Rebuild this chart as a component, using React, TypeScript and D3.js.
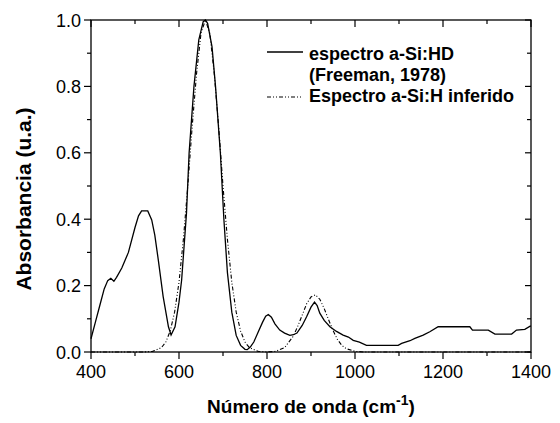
import React from "react";
import * as d3 from "d3";

const solidX = [400, 410, 420, 430, 438, 445, 452, 458, 470, 485, 500, 508, 515, 529, 538, 545, 553, 564, 576, 582, 591, 600, 606, 617, 623, 634, 645, 655, 660, 665, 675, 683, 694, 702, 710, 720, 730, 740, 750, 755, 762, 770, 780, 790, 797, 803, 810, 818, 829, 840, 852, 860, 868, 880, 890, 900, 908, 914, 920, 930, 943, 958, 973, 985, 996, 1010, 1026, 1098, 1106, 1125, 1136, 1155, 1170, 1189, 1261, 1267, 1303, 1318, 1356, 1367, 1386, 1398, 1400];
const solidY = [0.04, 0.09, 0.14, 0.19, 0.215, 0.222, 0.213, 0.225, 0.253, 0.3, 0.375, 0.41, 0.425, 0.425, 0.398, 0.352, 0.277, 0.167, 0.076, 0.051, 0.076, 0.15, 0.217, 0.418, 0.6, 0.8, 0.94, 0.995, 1.0, 0.99, 0.92, 0.8, 0.6, 0.4, 0.24, 0.12, 0.05, 0.02, 0.008, 0.007, 0.015, 0.03, 0.06, 0.09, 0.108, 0.113, 0.105, 0.085, 0.066, 0.057, 0.05, 0.052, 0.057, 0.08, 0.106, 0.135, 0.15, 0.14, 0.117, 0.095, 0.076, 0.062, 0.051, 0.045, 0.035, 0.03, 0.02, 0.02, 0.026, 0.034, 0.041, 0.051, 0.061, 0.076, 0.076, 0.066, 0.066, 0.054, 0.054, 0.066, 0.068, 0.078, 0.078];

const inferX = [400, 520, 540, 560, 570, 580, 590, 600, 610, 620, 630, 640, 650, 660, 670, 680, 690, 700, 710, 720, 730, 740, 750, 760, 780, 800, 820, 840, 860, 870, 880, 890, 900, 910, 920, 930, 940, 950, 960, 970, 980, 1000, 1020, 1400];
const inferY = [0, 0, 0.002, 0.013, 0.03, 0.063, 0.12, 0.21, 0.34, 0.5, 0.68, 0.84, 0.96, 1.0, 0.96, 0.84, 0.68, 0.5, 0.34, 0.21, 0.12, 0.063, 0.03, 0.013, 0.002, 0, 0.002, 0.013, 0.048, 0.078, 0.111, 0.145, 0.166, 0.172, 0.159, 0.131, 0.097, 0.065, 0.038, 0.02, 0.01, 0.002, 0, 0];

const xMajor = [400, 600, 800, 1000, 1200, 1400];
const xMinor = [500, 700, 900, 1100, 1300];
const yMajor = [0, 0.2, 0.4, 0.6, 0.8, 1.0];
const yMinor = [0.1, 0.3, 0.5, 0.7, 0.9];

const legendLabels = ["espectro a-Si:HD", "(Freeman, 1978)", "Espectro a-Si:H inferido"];

export default function App() {
  const W = 560, H = 423;
  const L = 91, R = 531, T = 20, B = 352;
  const x = d3.scaleLinear().domain([400, 1400]).range([L, R]);
  const y = d3.scaleLinear().domain([0, 1]).range([B, T]);
  const line = d3.line<[number, number]>().x(d => x(d[0])).y(d => y(d[1]));
  const solidPts = solidX.map((v, i) => [v, solidY[i]] as [number, number]);
  const inferPts = inferX.map((v, i) => [v, inferY[i]] as [number, number]);
  const font = "'Liberation Sans', Arial, Helvetica, sans-serif";
  const dash = "4,2,1,2,1,2";

  return (
    <div style={{ position: "absolute", left: 0, top: 0 }}>
      <svg width={W} height={H} style={{ display: "block", background: "#fff" }} fontFamily={font}>
        <path d={line(inferPts) || ""} fill="none" stroke="#000" strokeWidth={1.1} strokeDasharray={dash} />
        <path d={line(solidPts) || ""} fill="none" stroke="#000" strokeWidth={1.3} />
        <rect x={L} y={T} width={R - L} height={B - T} fill="none" stroke="#000" strokeWidth={1.3} />
        {xMajor.map(v => (
          <g key={"xm" + v}>
            <line x1={x(v)} x2={x(v)} y1={B} y2={B + 7} stroke="#000" strokeWidth={1.2} />
            <line x1={x(v)} x2={x(v)} y1={T} y2={T + 7} stroke="#000" strokeWidth={1.2} />
            <text x={x(v)} y={378} textAnchor="middle" fontSize={18}>{v}</text>
          </g>
        ))}
        {xMinor.map(v => (
          <g key={"xn" + v}>
            <line x1={x(v)} x2={x(v)} y1={B} y2={B + 4} stroke="#000" strokeWidth={1.2} />
            <line x1={x(v)} x2={x(v)} y1={T} y2={T + 4} stroke="#000" strokeWidth={1.2} />
          </g>
        ))}
        {yMajor.map(v => (
          <g key={"ym" + v}>
            <line x1={L - 7} x2={L} y1={y(v)} y2={y(v)} stroke="#000" strokeWidth={1.2} />
            <line x1={R - 6} x2={R} y1={y(v)} y2={y(v)} stroke="#000" strokeWidth={1.2} />
            <text x={81} y={y(v) + 6.5} textAnchor="end" fontSize={18}>{v.toFixed(1)}</text>
          </g>
        ))}
        {yMinor.map(v => (
          <g key={"yn" + v}>
            <line x1={L - 4} x2={L} y1={y(v)} y2={y(v)} stroke="#000" strokeWidth={1.2} />
            <line x1={R - 4} x2={R} y1={y(v)} y2={y(v)} stroke="#000" strokeWidth={1.2} />
          </g>
        ))}
        <line x1={267} x2={303} y1={52} y2={52} stroke="#000" strokeWidth={1.3} />
        <line x1={267} x2={303} y1={97} y2={97} stroke="#000" strokeWidth={1.1} strokeDasharray={dash} />
        <text x={309} y={59.5} fontSize={18} fontWeight="bold">{legendLabels[0]}</text>
        <text x={309} y={81} fontSize={18} fontWeight="bold">{legendLabels[1]}</text>
        <text x={309} y={102} fontSize={18} fontWeight="bold">{legendLabels[2]}</text>
        <text transform={`translate(31,199) rotate(-90)`} textAnchor="middle" fontSize={21} fontWeight="bold">Absorbancia (u.a.)</text>
        <text x={(L + R) / 2} y={413} textAnchor="middle" fontSize={19} fontWeight="bold">
          Número de onda (cm<tspan dy={-8} fontSize={14}>-1</tspan><tspan dy={8}>)</tspan>
        </text>
      </svg>
    </div>
  );
}
